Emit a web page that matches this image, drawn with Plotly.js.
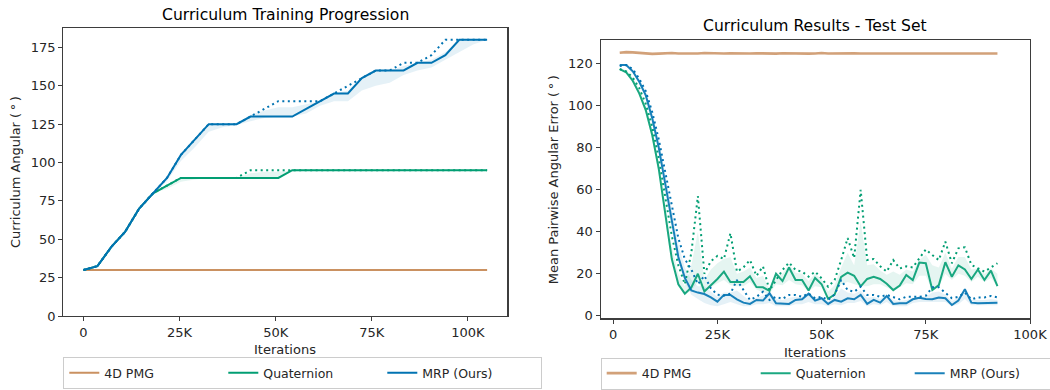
<!DOCTYPE html>
<html>
<head>
<meta charset="utf-8">
<script src="https://cdn.plot.ly/plotly-3.0.1.min.js"></script>
<style>html,body{margin:0;padding:0;background:#fff;}#chart{width:1050px;height:390px;}</style>
</head>
<body>
<div id="chart"></div>
<script>
// ---------- Left chart: Curriculum Training Progression ----------
const L_ITERS = [0, 3621, 7241, 10862, 14483, 18103, 21724, 25345, 28966, 32586, 36207, 39828, 43448, 47069, 50690, 54310, 57931, 61552, 65172, 68793, 72414, 76034, 79655, 83276, 86897, 90517, 94138, 97759, 101379, 105000];
const L_PMG = [30,30,30,30,30,30,30,30,30,30,30,30,30,30,30,30,30,30,30,30,30,30,30,30,30,30,30,30,30,30];
const L_QUAT = [30,32.5,45,55,70,80,85,90,90,90,90,90,90,90,90,95,95,95,95,95,95,95,95,95,95,95,95,95,95,95];
const L_QUAT_DOT = [30,32.5,45,55,70,80,85,90,90,90,90,90,95,95,95,95,95,95,95,95,95,95,95,95,95,95,95,95,95,95];
const L_QUAT_LO = [30,32.5,45,55,70,80,83,87.5,89,90,90,90,90,90,90,94,95,95,95,95,95,95,95,95,95,95,95,95,95,95];
const L_QUAT_HI = [30,32.5,45,55,70,80,85,90,90,90,90,90,93,94,94,95,95,95,95,95,95,95,95,95,95,95,95,95,95,95];
const L_MRP = [30,32.5,45,55,70,80,90,105,115,125,125,125,130,130,130,130,135,140,145,145,155,160,160,160,165,165,170,180,180,180];
const L_MRP_DOT = [30,32.5,45,55,70,80,90,105,115,125,125,125,130,135,140,140,140,140,145,150,155,160,160,165,165,170,180,180,180,180];
const L_MRP_LO = [30,32.5,45,55,70,80,88,101,110,120,123,124.5,127,129,130,130,132,137,140,140,147,150,152,157,160,162,167,172,177,180];
const L_MRP_HI = [30,32.5,45,55,70,80,90,105,115,125,125,126,131,134,136,136,138,140,145,147,155,160,160,163,165,167,172,180,180,180];

// ---------- Right chart: Curriculum Results - Test Set ----------
const R_ITERS = [1563, 3125, 4688, 6250, 7813, 9375, 10938, 12500, 14063, 15625, 17188, 18750, 20313, 21875, 23438, 25000, 26563, 28125, 29688, 31250, 32813, 34375, 35938, 37500, 39063, 40625, 42188, 43750, 45313, 46875, 48438, 50000, 51563, 53125, 54688, 56250, 57813, 59375, 60938, 62500, 64063, 65625, 67188, 68750, 70313, 71875, 73438, 75000, 76563, 78125, 79688, 81250, 82813, 84375, 85938, 87500, 89063, 90625, 92188];
const R_PMG = [125.3,125.6,125.5,125.2,124.9,124.8,124.9,125.1,125.2,125.0,
  124.9,125.1,125.0,125.2,125.1,124.9,125.0,125.1,125.0,124.9,
  125.0,125.1,125.0,125.0,124.9,125.1,125.0,125.1,125.0,124.9,
  125.0,125.2,125.0,125.1,124.9,125.0,125.1,125.0,125.0,124.9,
  125.1,125.0,125.0,125.1,125.0,124.9,125.0,125.1,125.0,125.0,
  125.1,124.9,125.0,125.0,125.1,125.0,125.0,124.9,125.0];
const R_QUAT = [117.5,116,112,106,98,86,70,48,27,15,
  10.5,13.5,20,11.5,14.5,17.5,21,16,16,16,
  18.8,13.6,13.5,11.8,20,16.5,23,17,17,12,
  18,15,8,10,18.5,20.5,19,14,17.5,18.5,
  17.5,15.2,12.2,14.4,19.4,17,25.3,25,12.2,14.6,
  25.5,18.5,24,22,17.5,22,17,21.5,14.1];
const R_QUAT_DOT = [117.5,116.5,113.5,108.5,101,90,75,57,38,24,
  15,30,57,20,26,28.5,27,39.3,21,23,
  26.5,19,23.5,12,17,21.8,25.3,21.8,21,18.6,
  21,17.8,13.8,17,26.5,37,27.5,60,26.5,27,
  23.5,21,26.5,22.5,23.5,23,27.3,31.6,28.9,26.5,
  35.3,25,32.1,32.6,24.2,22.6,21,23,25];
const R_QUAT_LO = [117,115.5,111,105,96,84,67,45,25,14,
  10,12,16,11,13.5,15.5,17,14.5,14,14,
  16,12.5,11,10.5,15,14.5,17,15,14.5,11.5,
  14,13.5,8,10,15,16,15,14,14,15,
  15,13.5,12,13.5,15.5,15,19,19,12,14,
  20,17,20,19,16,18.5,16,18,14];
const R_QUAT_HI = [118,117,113.5,108,100,89,73,53,33,20,
  14,24,40,17,22,25,27,28,20,21,
  23,18,19,12.5,19.5,20,24.5,20.5,20,16.5,
  20,17.5,11.5,14.5,23,30,24,45,24,24.5,
  21.5,19.5,21,19.5,22,21,26.5,29,24,23,
  30,22.5,28,28,22,22.5,20,22.5,20];
const R_MRP = [119.5,119.5,116.5,111.5,105,94,80,63,45,28,
  18,12,11,10.3,8.7,6.7,9.9,9.9,7.8,6.2,
  5.6,7.5,7.2,10.7,5.9,5.9,5.6,7.5,7.8,10.5,
  7.2,8.3,5.6,7.5,6.7,8.3,7.8,9.9,5.6,7.5,
  6.2,9.4,5.6,5.9,5.9,7.8,8.5,7.9,7.8,8.7,
  8.3,5.1,7.2,12.6,6.2,5.9,5.9,5.9,6.2];
const R_MRP_DOT = [119,119.5,117.5,113,107,97,84,68,52,37,
  27,22,15,19,13,10,9.5,10.5,17,12,
  7.5,9,11.4,7.5,9,8,9.9,9.9,9,10.6,
  8.3,9,7.5,10,17,12.2,11.4,13.8,9.9,9.9,
  9,9.9,9,7.8,9,9,9,9.5,13.5,13.5,
  10.7,8.3,9,11,7.8,8.7,8.7,9.4,8.7];
const R_MRP_LO = [119,119,116,111,104,93,79,61,43,26,
  16,10,8,6,5,4.5,5.5,6.5,5.5,4.5,
  4.5,5.5,5.5,6,4.5,4.5,4.5,5.5,5.5,6.5,
  5.5,5.5,4.5,5.5,5,6,6,7,4.5,5.5,
  5,6.5,4.5,4.5,4.5,6,6.5,6.5,6.5,6.5,
  6.5,4.5,5.5,8,5,5,5,5,5];
const R_MRP_HI = [119.5,120,117.5,113,107,97,84,67,50,34,
  23,17,14,14,11.5,9,11,11,12,9.5,
  7,8.5,9.5,11.5,8,7.5,8.5,9,9,11,
  8.5,9,7,9,13,11,10.5,12,8.5,9,
  8,10,7.5,7,7.5,8.5,9,9,11,11.5,
  10,7,8.5,13,7.5,7.5,7.5,8,7.5];

const SERIES = ['4D PMG', 'Quaternion', 'MRP (Ours)'];
const C_PMG = '#ca9161', C_QUAT = '#029e73', C_MRP = '#0173b2';
const DOT = '2px,3.5px';

function band(x, lo, hi, fill, xa, ya) {
  return [
    {x: x, y: lo, xaxis: xa, yaxis: ya, mode: 'lines', line: {width: 0, color: 'rgba(0,0,0,0)'}, showlegend: false, hoverinfo: 'skip'},
    {x: x, y: hi, xaxis: xa, yaxis: ya, mode: 'lines', line: {width: 0, color: 'rgba(0,0,0,0)'}, fill: 'tonexty', fillcolor: fill, showlegend: false, hoverinfo: 'skip'}
  ];
}
function line(x, y, color, dash, xa, ya, name, legend, width, opacity) {
  const t = {x: x, y: y, xaxis: xa, yaxis: ya, mode: 'lines', line: {color: color, width: width || 2, dash: dash || 'solid'}, name: name, showlegend: !!legend, opacity: opacity || 1};
  if (legend) t.legend = legend;
  return t;
}

const traces = [].concat(
  band(L_ITERS, L_QUAT_LO, L_QUAT_HI, 'rgba(2,158,115,0.10)', 'x', 'y'),
  band(L_ITERS, L_MRP_LO, L_MRP_HI, 'rgba(1,115,178,0.10)', 'x', 'y'),
  band(R_ITERS, R_QUAT_LO, R_QUAT_HI, 'rgba(2,158,115,0.10)', 'x2', 'y2'),
  band(R_ITERS, R_MRP_LO, R_MRP_HI, 'rgba(1,115,178,0.10)', 'x2', 'y2'),
  [
    line(L_ITERS, L_PMG, C_PMG, 'solid', 'x', 'y', SERIES[0], 'legend'),
    line(L_ITERS, L_QUAT_DOT, C_QUAT, DOT, 'x', 'y', SERIES[1], null),
    line(L_ITERS, L_QUAT, C_QUAT, 'solid', 'x', 'y', SERIES[1], 'legend'),
    line(L_ITERS, L_MRP_DOT, C_MRP, DOT, 'x', 'y', SERIES[2], null),
    line(L_ITERS, L_MRP, C_MRP, 'solid', 'x', 'y', SERIES[2], 'legend'),
    line(R_ITERS, R_PMG, C_PMG, 'solid', 'x2', 'y2', SERIES[0], 'legend2', 2.6, 0.85),
    line(R_ITERS, R_QUAT_DOT, C_QUAT, DOT, 'x2', 'y2', SERIES[1], null),
    line(R_ITERS, R_QUAT, C_QUAT, 'solid', 'x2', 'y2', SERIES[1], 'legend2', 2, 0.9),
    line(R_ITERS, R_MRP_DOT, C_MRP, DOT, 'x2', 'y2', SERIES[2], null),
    line(R_ITERS, R_MRP, C_MRP, 'solid', 'x2', 'y2', SERIES[2], 'legend2', 2, 0.9)
  ]
);

const X_TICKS = [0, 25000, 50000, 75000, 100000];
const X_LABELS = ['0', '25K', '50K', '75K', '100K'];
const L_Y_TICKS = [0, 25, 50, 75, 100, 125, 150, 175];
const R_Y_TICKS = [0, 20, 40, 60, 80, 100, 120];

const axBase = {showline: true, mirror: true, linecolor: '#3d3d3d', linewidth: 1.2, ticks: 'outside', ticklen: 4, tickwidth: 1, tickcolor: '#3d3d3d', showgrid: false, zeroline: false, tickfont: {size: 13, color: '#262626'}};

const W = 1050, H = 390;
const px = v => v / W, py = v => 1 - v / H;

const legBase = {orientation: 'h', xanchor: 'left', yanchor: 'bottom', traceorder: 'normal', bordercolor: '#cccccc', borderwidth: 1, bgcolor: '#ffffff', entrywidthmode: 'pixels', font: {size: 12.5, color: '#262626'}};

const layout = {
  width: W, height: H,
  margin: {l: 0, r: 0, t: 0, b: 0, autoexpand: false},
  paper_bgcolor: '#ffffff', plot_bgcolor: '#ffffff',
  font: {family: 'DejaVu Sans', size: 13, color: '#262626'},
  xaxis: Object.assign({}, axBase, {domain: [px(63.3), px(507.3)], range: [-5250, 110250], tickvals: X_TICKS, ticktext: X_LABELS, anchor: 'y'}),
  yaxis: Object.assign({}, axBase, {domain: [py(316), py(28.3)], range: [0, 187.5], tickvals: L_Y_TICKS, anchor: 'x'}),
  xaxis2: Object.assign({}, axBase, {domain: [px(600.7), px(1030)], range: [-3000, 100000], tickvals: X_TICKS, ticktext: X_LABELS, anchor: 'y2'}),
  yaxis2: Object.assign({}, axBase, {domain: [py(318.3), py(40)], range: [-1.25, 131.4], tickvals: R_Y_TICKS, anchor: 'x2'}),
  legend: Object.assign({}, legBase, {x: px(63.3), y: py(389), entrywidth: 114}),
  legend2: Object.assign({}, legBase, {x: px(600.7), y: py(389.5), entrywidth: 109}),
  annotations: [
    {text: 'Curriculum Training Progression', xref: 'paper', yref: 'paper', x: px(285.3), y: py(15), xanchor: 'center', yanchor: 'middle', showarrow: false, font: {size: 15.6, color: '#000'}},
    {text: 'Curriculum Results - Test Set', xref: 'paper', yref: 'paper', x: px(815.3), y: py(26.5), xanchor: 'center', yanchor: 'middle', showarrow: false, font: {size: 15.6, color: '#000'}},
    {text: 'Curriculum Angular (\u2009\u00b0\u2009)', xref: 'paper', yref: 'paper', x: px(15), y: py(172), xanchor: 'center', yanchor: 'middle', textangle: -90, showarrow: false, font: {size: 13, color: '#262626'}},
    {text: 'Mean Pairwise Angular Error (\u2009\u00b0\u2009)', xref: 'paper', yref: 'paper', x: px(553.3), y: py(180), xanchor: 'center', yanchor: 'middle', textangle: -90, showarrow: false, font: {size: 13, color: '#262626'}},
    {text: 'Iterations', xref: 'paper', yref: 'paper', x: px(285.3), y: py(349), xanchor: 'center', yanchor: 'middle', showarrow: false, font: {size: 13, color: '#262626'}},
    {text: 'Iterations', xref: 'paper', yref: 'paper', x: px(815.3), y: py(352), xanchor: 'center', yanchor: 'middle', showarrow: false, font: {size: 13, color: '#262626'}}
  ]
};

Plotly.newPlot('chart', traces, layout, {displayModeBar: false, staticPlot: true});
</script>
</body>
</html>
